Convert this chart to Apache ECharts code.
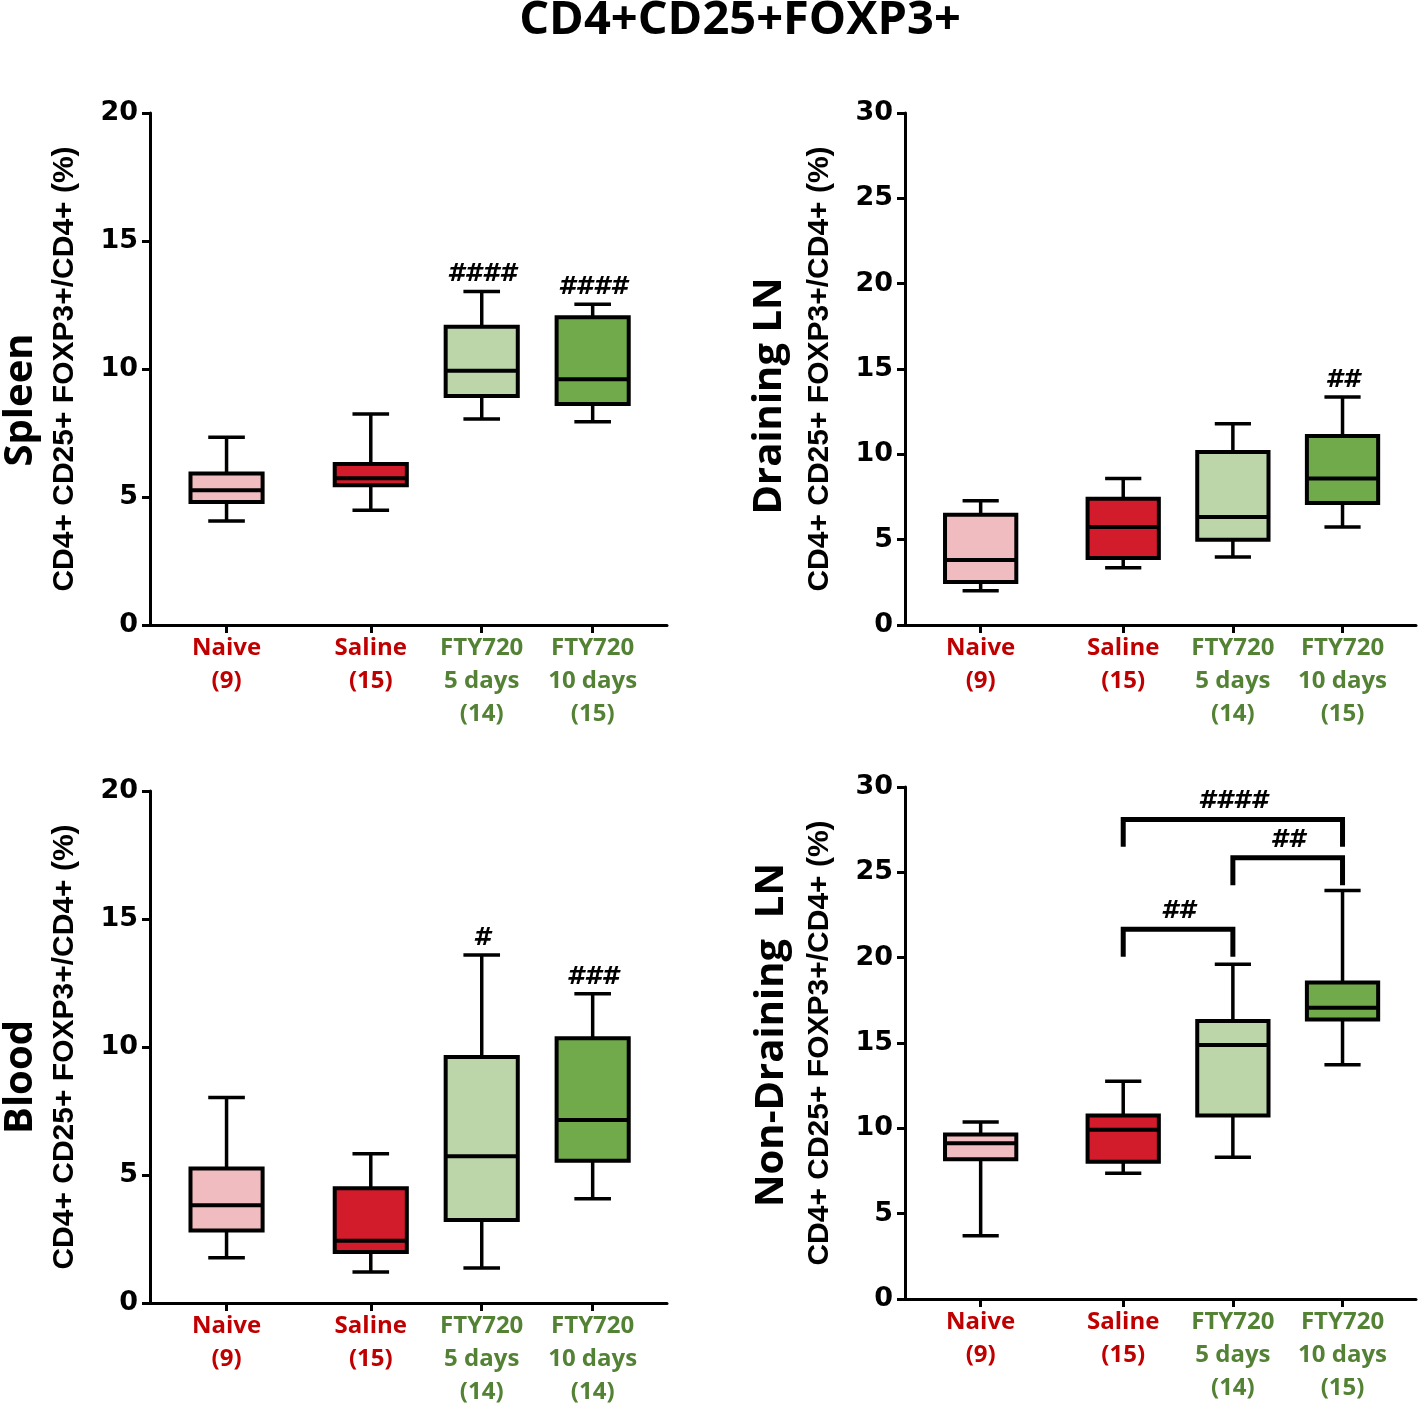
<!DOCTYPE html>
<html>
<head>
<meta charset="utf-8">
<script src="https://cdn.jsdelivr.net/npm/echarts@6/dist/echarts.min.js"></script>
<style>
html, body { margin: 0; padding: 0; background: #fff; }
#chart { width: 1418px; height: 1413px; }
</style>
</head>
<body>
<div id="chart"></div>
<script>
"use strict";

// groups along the x axis
const groupNames = ["Naive", "Saline", "FTY720\n5 days", "FTY720\n10 days"];
const groupFill = ["#f1bcbf", "#d21b2b", "#bcd6a9", "#70aa4a"];
const groupText = ["r", "r", "g", "g"];
const xPos = [0, 1.3, 2.3, 3.3];

// n per group
const spleenN = [9, 15, 14, 15];
const drainingN = [9, 15, 14, 15];
const bloodN = [9, 15, 14, 14];
const nonDrainingN = [9, 15, 14, 15];

// [min, q1, median, q3, max]
const spleenBox = [
    [4.06, 4.80, 5.26, 5.92, 7.33],
    [4.48, 5.46, 5.73, 6.29, 8.24],
    [8.05, 8.95, 9.93, 11.65, 13.03],
    [7.94, 8.63, 9.60, 12.02, 12.53]
];
const drainingBox = [
    [2.01, 2.52, 3.81, 6.46, 7.28],
    [3.36, 3.92, 5.74, 7.40, 8.59],
    [3.98, 5.00, 6.33, 10.13, 11.79],
    [5.74, 7.15, 8.59, 11.07, 13.36]
];
const bloodBox = [
    [1.77, 2.83, 3.82, 5.25, 8.03],
    [1.21, 1.99, 2.43, 4.48, 5.83],
    [1.37, 3.24, 5.73, 9.61, 13.59],
    [4.07, 5.56, 7.15, 10.34, 12.08]
];
const nonDrainingBox = [
    [3.71, 8.19, 9.13, 9.64, 10.37],
    [7.37, 8.04, 9.92, 10.75, 12.76],
    [8.31, 10.75, 14.88, 16.29, 19.61],
    [13.72, 16.38, 17.06, 18.55, 23.94]
];

// significance marks above whiskers
const spleenSig = ["", "", "####", "####"];
const drainingSig = ["", "", "", "##"];
const bloodSig = ["", "", "#", "###"];
const nonDrainingSig = ["", "", "", ""];

// comparison brackets (non-draining LN)
const bracketFrom = [1, 2, 1];
const bracketTo = [3, 3, 2];
const bracketTop = [28.1, 25.85, 21.66];
const bracketLeg = [26.5, 24.24, 20.05];
const bracketText = ["####", "##", "##"];

const yMax = [20, 30, 20, 30];
const panelNames = ["Spleen", "Draining LN", "Blood", "Non-Draining  LN"];
const yName = "CD4+ CD25+ FOXP3+/CD4+ (%)";

const BOX_W = 0.65;
const CAP_W = 0.33;
const NUM_FONT = "DejaVu Sans";
const NAME_FONT = "Liberation Sans";
const CAL_FONT = "Open Sans";

const grids = [
    { left: 150, top: 113, width: 517, height: 512 },
    { left: 905, top: 113, width: 511, height: 512 },
    { left: 150, top: 791, width: 517, height: 512 },
    { left: 905, top: 787, width: 511, height: 512 }
];

const panels = [
    { box: spleenBox, n: spleenN, sig: spleenSig },
    { box: drainingBox, n: drainingN, sig: drainingSig },
    { box: bloodBox, n: bloodN, sig: bloodSig },
    { box: nonDrainingBox, n: nonDrainingN, sig: nonDrainingSig }
];

function xLabel(n) {
    return function (value) {
        let i = xPos.findIndex(p => Math.abs(p - value) < 1e-6);
        if (i < 0) return "";
        let key = groupText[i];
        let lines = groupNames[i].split("\n");
        lines.push(`(${n[i]})`);
        return lines.map(s => `{${key}|${s}}`).join("\n");
    };
}

function renderBox(params, api) {
    let x = api.value(0);
    let pMin = api.coord([x, api.value(1)]);
    let pQ1 = api.coord([x, api.value(2)]);
    let pMed = api.coord([x, api.value(3)]);
    let pQ3 = api.coord([x, api.value(4)]);
    let pMax = api.coord([x, api.value(5)]);
    let half = api.size([BOX_W, 0])[0] / 2;
    let cap = api.size([CAP_W, 0])[0] / 2;
    let ln = { stroke: "#000", lineWidth: 3.5 };
    return {
        type: "group",
        children: [
            { type: "line", shape: { x1: pMax[0], y1: pMax[1], x2: pQ3[0], y2: pQ3[1] }, style: ln },
            { type: "line", shape: { x1: pMax[0] - cap, y1: pMax[1], x2: pMax[0] + cap, y2: pMax[1] }, style: ln },
            { type: "line", shape: { x1: pMin[0], y1: pMin[1], x2: pQ1[0], y2: pQ1[1] }, style: ln },
            { type: "line", shape: { x1: pMin[0] - cap, y1: pMin[1], x2: pMin[0] + cap, y2: pMin[1] }, style: ln },
            {
                type: "rect",
                shape: { x: pQ3[0] - half, y: pQ3[1], width: half * 2, height: pQ1[1] - pQ3[1] },
                style: { fill: groupFill[params.dataIndex], stroke: "#000", lineWidth: 4 }
            },
            { type: "line", shape: { x1: pMed[0] - half, y1: pMed[1], x2: pMed[0] + half, y2: pMed[1] }, style: { stroke: "#000", lineWidth: 4 } }
        ]
    };
}

const HASH_FONT = `italic bold 25px "${NUM_FONT}"`;

function sigRenderer(sig) {
    return function (params, api) {
        let p = api.coord([api.value(0), api.value(1)]);
        return {
            type: "text",
            style: {
                text: sig[params.dataIndex], x: p[0], y: p[1] - 4,
                textAlign: "center", textVerticalAlign: "bottom",
                font: HASH_FONT, fill: "#000"
            }
        };
    };
}

function renderBracket(params, api) {
    let a = api.coord([api.value(0), api.value(3)]);
    let b = api.coord([api.value(0), api.value(2)]);
    let c = api.coord([api.value(1), api.value(2)]);
    let d = api.coord([api.value(1), api.value(3)]);
    return {
        type: "group",
        children: [
            { type: "polyline", shape: { points: [a, b, c, d] }, style: { stroke: "#000", lineWidth: 5, fill: null } },
            {
                type: "text",
                style: {
                    text: bracketText[params.dataIndex], x: (b[0] + c[0]) / 2, y: b[1] - 5,
                    textAlign: "center", textVerticalAlign: "bottom",
                    font: HASH_FONT, fill: "#000"
                }
            }
        ]
    };
}

let xAxes = [], yAxes = [], series = [];
panels.forEach((pn, k) => {
    xAxes.push({
        type: "value", gridIndex: k, min: -0.69, max: 3.97,
        splitLine: { show: false },
        axisLine: { onZero: false, lineStyle: { color: "#000", width: 3 } },
        axisTick: { customValues: xPos, length: 8, lineStyle: { color: "#000", width: 3 } },
        axisLabel: {
            customValues: xPos, margin: 7, formatter: xLabel(pn.n),
            rich: {
                r: { color: "#c00000", fontFamily: CAL_FONT, fontWeight: "bold", fontSize: 24, lineHeight: 33 },
                g: { color: "#548235", fontFamily: CAL_FONT, fontWeight: "bold", fontSize: 24, lineHeight: 33 }
            }
        }
    });
    yAxes.push({
        type: "value", gridIndex: k, min: 0, max: yMax[k], interval: 5,
        name: yName, nameLocation: "middle", nameRotate: 90, nameGap: 70,
        nameTextStyle: { fontFamily: NAME_FONT, fontWeight: "bold", fontSize: 30, color: "#000" },
        splitLine: { show: false },
        axisLine: { show: true, onZero: false, lineStyle: { color: "#000", width: 3 } },
        axisTick: { show: true, length: 8, lineStyle: { color: "#000", width: 3 } },
        axisLabel: { margin: 12, fontFamily: NUM_FONT, fontWeight: "bold", fontSize: 27, color: "#000" }
    });
    series.push({
        type: "custom", xAxisIndex: k, yAxisIndex: k,
        renderItem: renderBox,
        encode: { x: 0, y: [1, 2, 3, 4, 5] },
        data: pn.box.map((b, i) => [xPos[i]].concat(b)),
        silent: true
    });
    series.push({
        type: "custom", xAxisIndex: k, yAxisIndex: k,
        renderItem: sigRenderer(pn.sig),
        data: pn.box.map((b, i) => [xPos[i], b[4]]),
        silent: true
    });
});

series.push({
    type: "custom", xAxisIndex: 3, yAxisIndex: 3,
    renderItem: renderBracket,
    encode: { x: [0, 1], y: [2, 3] },
    data: bracketFrom.map((f, i) => [xPos[f], xPos[bracketTo[i]], bracketTop[i], bracketLeg[i]]),
    silent: true
});

const nameSpots = [[21, 400], [770, 396], [21, 1077], [772, 1035]];
let graphics = panelNames.map((t, i) => ({
    type: "text", x: nameSpots[i][0], y: nameSpots[i][1], rotation: Math.PI / 2,
    style: { text: t, font: `bold 40px "${CAL_FONT}"`, textAlign: "center", textVerticalAlign: "middle", fill: "#000" }
}));
graphics.push({
    type: "text", x: 740, y: 21,
    style: { text: "CD4+CD25+FOXP3+", font: `bold 47px "${CAL_FONT}"`, textAlign: "center", textVerticalAlign: "middle", fill: "#000" }
});

let chart = echarts.init(document.getElementById("chart"));
chart.setOption({
    animation: false,
    backgroundColor: "#fff",
    grid: grids,
    xAxis: xAxes,
    yAxis: yAxes,
    series: series,
    graphic: graphics
});
</script>
</body>
</html>
